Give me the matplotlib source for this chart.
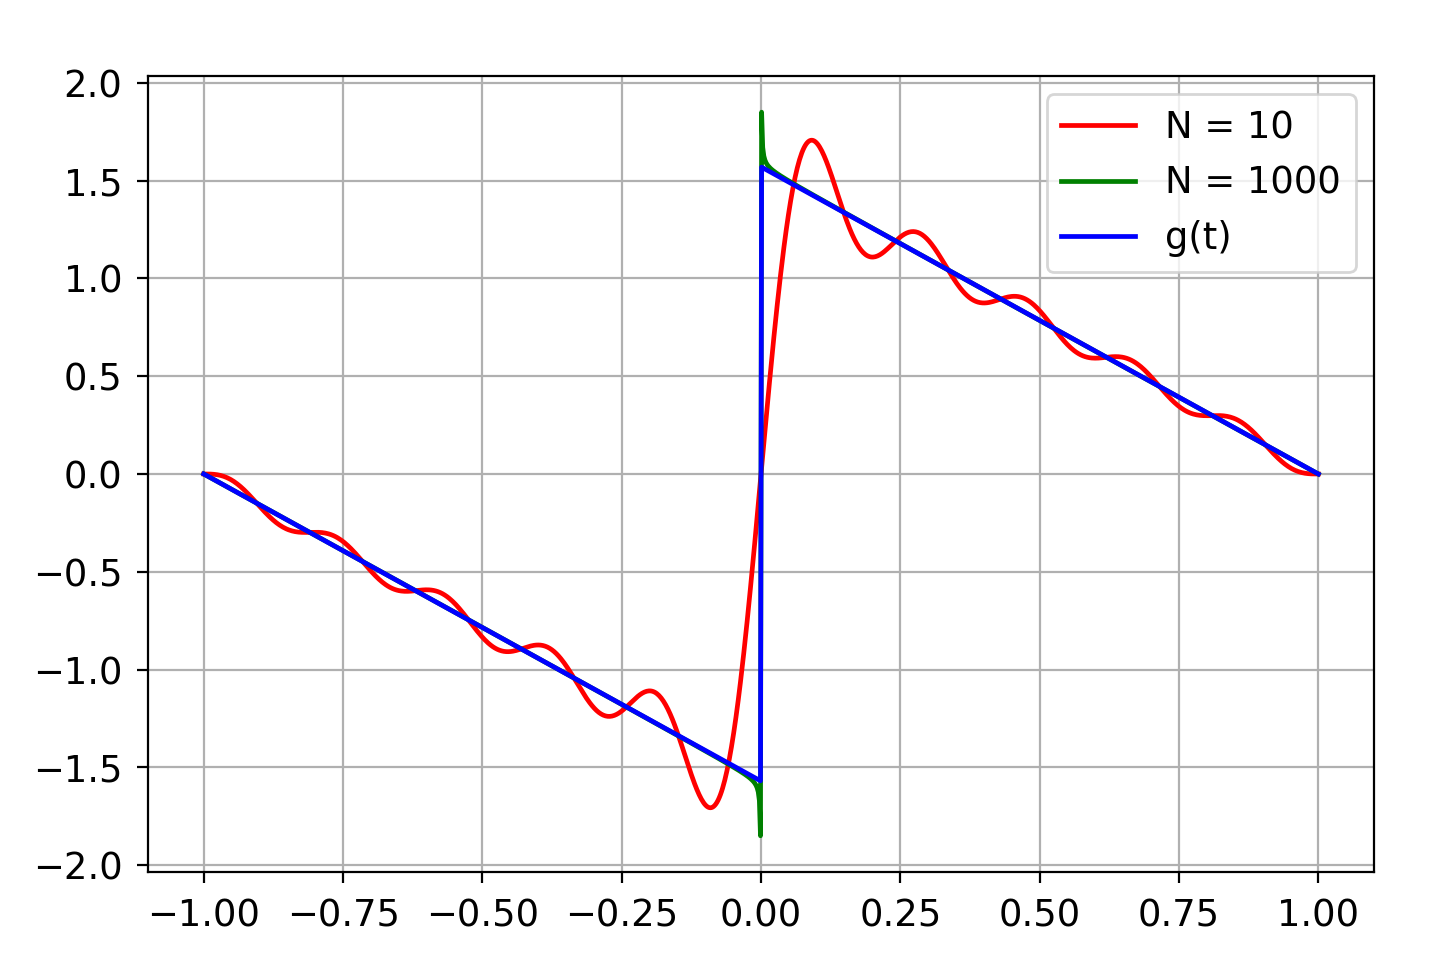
import numpy as np
import matplotlib
matplotlib.use("Agg")
import matplotlib.pyplot as plt

# Fourier series of g(t) = sum_{n>=1} sin(n*pi*t)/n on [-1, 1]
term_counts = [10, 1000]
series_labels = ["N = 10", "N = 1000"]
series_colors = ["red", "green"]
t = np.linspace(-1, 1, 1000)


def partial_sum(tt, N):
    s = np.zeros_like(tt)
    for n in range(1, N + 1):
        s += np.sin(n * np.pi * tt) / n
    return s


g = np.where(t > 0, (np.pi / 2) * (1 - t), np.where(t < 0, -(np.pi / 2) * (1 + t), 0.0))

plt.rcParams['font.size'] = 13.3
plt.rcParams['xtick.major.size'] = 4
plt.rcParams['ytick.major.size'] = 4
plt.rcParams['xtick.major.pad'] = 5.2
plt.rcParams['ytick.major.pad'] = 5.2
fig = plt.figure(figsize=(7.2, 4.84), dpi=200)
ax = fig.add_axes([0.1028, 0.0992, 0.8514, 0.8223])

for N, lab, col in zip(term_counts, series_labels, series_colors):
    ax.plot(t, partial_sum(t, N), color=col, lw=1.7, label=lab)
ax.plot(t, g, color="blue", lw=1.7, label="g(t)")

ax.grid(True)
ax.set_xticks([-1.0, -0.75, -0.5, -0.25, 0.0, 0.25, 0.5, 0.75, 1.0])
ax.set_xticklabels(["\u22121.00", "\u22120.75", "\u22120.50", "\u22120.25", "0.00", "0.25", "0.50", "0.75", "1.00"])
ax.legend(loc="upper right")
fig.savefig("out.png", dpi=200)
